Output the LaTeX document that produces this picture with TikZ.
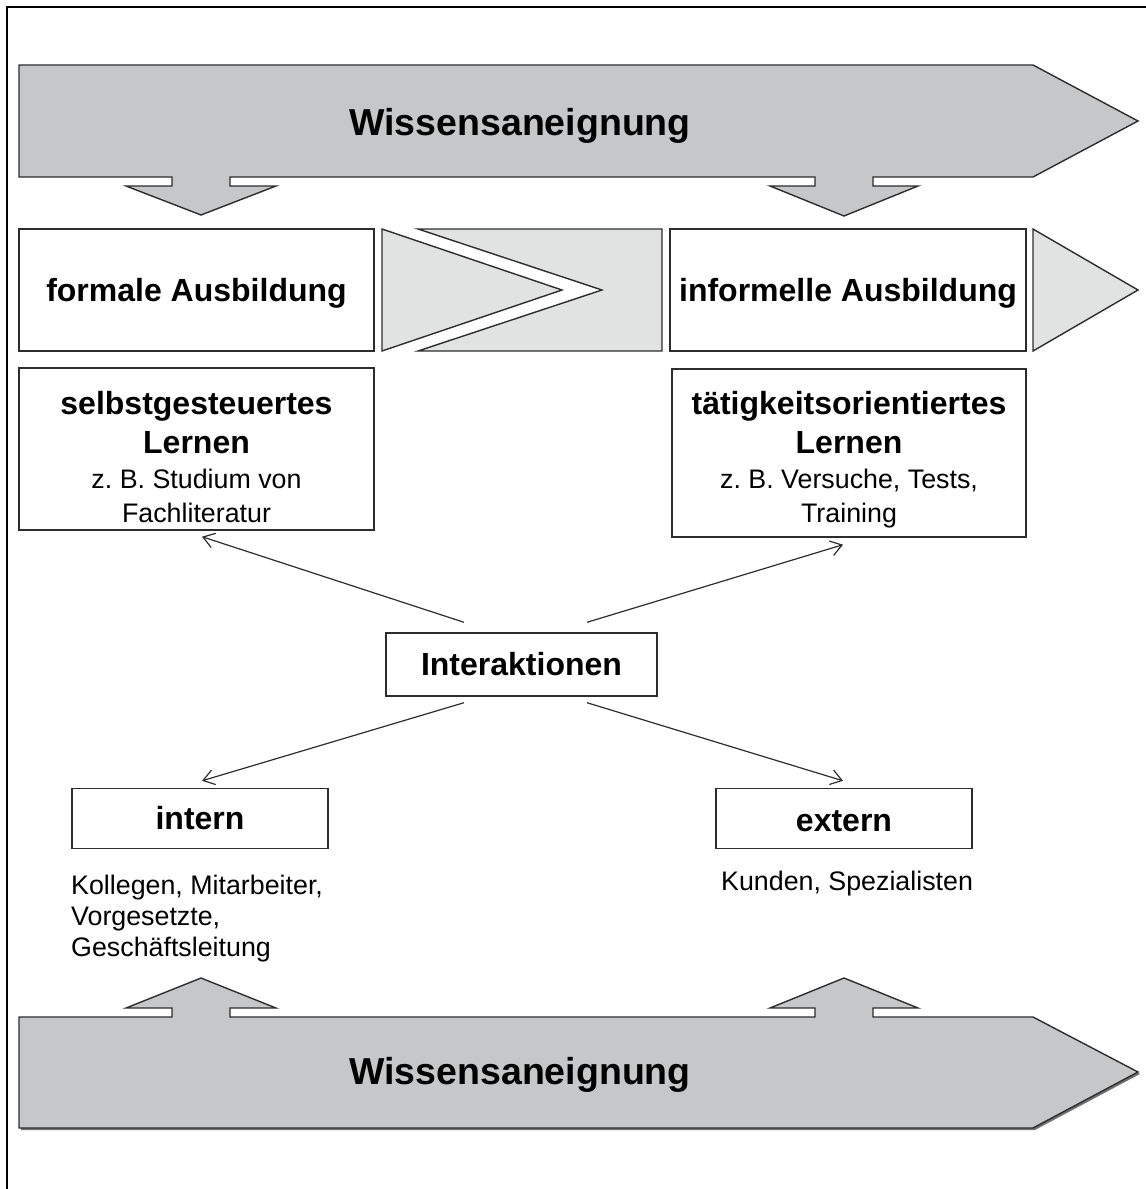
\documentclass[tikz,border=0pt]{standalone}
\usepackage{fontspec}
\setmainfont{Liberation Sans}
\usetikzlibrary{arrows.meta}
\frenchspacing
\definecolor{bandgray}{RGB}{198,199,200}
\definecolor{chevgray}{RGB}{225,226,226}
\definecolor{edgegray}{RGB}{45,45,45}
\newcommand\hdfont{\fontsize{32}{38}\selectfont\bfseries}
\newcommand\smfont{\fontsize{26.8}{34}\selectfont}
\newcommand\listfont{\fontsize{26.8}{31}\selectfont}
\newcommand\titlefont{\fontsize{37.5}{44}\selectfont\bfseries}
\begin{document}
\begin{tikzpicture}[x=1pt,y=-1pt,
  outline/.style={draw=edgegray, line width=1.4pt, line join=miter},
  band/.style={outline, fill=bandgray},
  chev/.style={outline, fill=chevgray},
  box/.style={draw=edgegray, line width=1.4pt, fill=white, inner sep=0pt,
    align=center, font=\smfont},
  titletext/.style={inner sep=0pt, font=\titlefont},
  conn/.style={draw=edgegray, line width=1.2pt,
    -{Straight Barb[length=11pt,width=15pt,line width=1.2pt]}},
  plain/.style={inner sep=0pt, font=\listfont, align=left}
]
\useasboundingbox (0,0) rectangle (1146,1189);

% outer frame (left and top edges)
\draw[line width=2.6pt] (7,1189) -- (7,7) -- (1146,7);

% upper knowledge band with two downward arrows
\path[band] (19,65) -- (1033,65) -- (1138,121) -- (1033,177)
  -- (873,177) -- (873,186) -- (918,186) -- (844,216) -- (770,186)
  -- (815,186) -- (815,177)
  -- (230,177) -- (230,186) -- (276,186) -- (201,215) -- (126,186)
  -- (172,186) -- (172,177) -- (19,177) -- cycle;
\node[titletext] (title1) at (520,126) {Wissensaneignung};

% lower knowledge band with two upward arrows (with a slight shadow)
\path[fill=black!55] (21,1019) -- (1035,1019) -- (1140,1074) -- (1035,1130) -- (21,1130) -- cycle;
\path[band] (19,1017) -- (172,1017) -- (172,1008) -- (126,1008) -- (201,978)
  -- (276,1008) -- (230,1008) -- (230,1017)
  -- (815,1017) -- (815,1008) -- (770,1008) -- (844,978) -- (918,1008)
  -- (873,1008) -- (873,1017)
  -- (1033,1017) -- (1138,1072) -- (1033,1128) -- (19,1128) -- cycle;
\node[titletext] (title2) at (520,1075) {Wissensaneignung};

% chevrons between the two kinds of education
\path[chev] (382,229) -- (562,290) -- (382,351) -- cycle;
\path[chev] (418,229) -- (662,229) -- (662,351) -- (418,351) -- (602,290) -- cycle;
\path[chev] (1033,229) -- (1138,290) -- (1033,351) -- cycle;

% education boxes
\node[box, minimum width=355pt, minimum height=122pt] (formal) at (196.5,290)
  {\hdfont\rule{0pt}{29.5pt}formale Ausbildung};
\node[box, minimum width=356pt, minimum height=122pt] (informal) at (848,290)
  {\hdfont\rule{0pt}{29.5pt}informelle Ausbildung};

% learning boxes (the strut on the first line keeps the text a bit low)
\node[box, minimum width=355pt, minimum height=162pt] (selbst) at (196.5,449)
  {{\hdfont\rule{0pt}{40pt}selbstgesteuertes}\\[5pt]{\hdfont Lernen}\\[1pt]z. B. Studium von\\Fachliteratur};
\node[box, minimum width=354pt, minimum height=168pt] (taetig) at (849,453)
  {{\hdfont\rule{0pt}{37pt}tätigkeitsorientiertes}\\[5pt]{\hdfont Lernen}\\[1pt]z. B. Versuche, Tests,\\Training};

% interactions
\node[box, minimum width=271pt, minimum height=63pt] (inter) at (521.5,664.5)
  {\hdfont Interaktionen};
\node[box, minimum width=256pt, minimum height=60pt] (intern) at (200,818.5)
  {\hdfont intern};
\node[box, minimum width=256pt, minimum height=60pt] (extern) at (844,818.5)
  {\hdfont\rule{0pt}{26pt}extern};

\node[plain, anchor=north west] (internlist) at (71,875)
  {Kollegen, Mitarbeiter,\\Vorgesetzte,\\Geschäftsleitung};
\node[plain, anchor=base west] (externlist) at (721,890)
  {Kunden, Spezialisten};

% connectors
\draw[conn] ([xshift=-57.5pt,yshift=10pt]inter.north) -- ([xshift=5.5pt,yshift=-6pt]selbst.south);
\draw[conn] ([xshift=65.5pt,yshift=10pt]inter.north) -- ([xshift=-6pt,yshift=-7pt]taetig.south);
\draw[conn] ([xshift=-57.5pt,yshift=-6pt]inter.south) -- ([xshift=2pt,yshift=7pt]intern.north);
\draw[conn] ([xshift=65.5pt,yshift=-6pt]inter.south) -- ([xshift=-1pt,yshift=7pt]extern.north);
\end{tikzpicture}
\end{document}
